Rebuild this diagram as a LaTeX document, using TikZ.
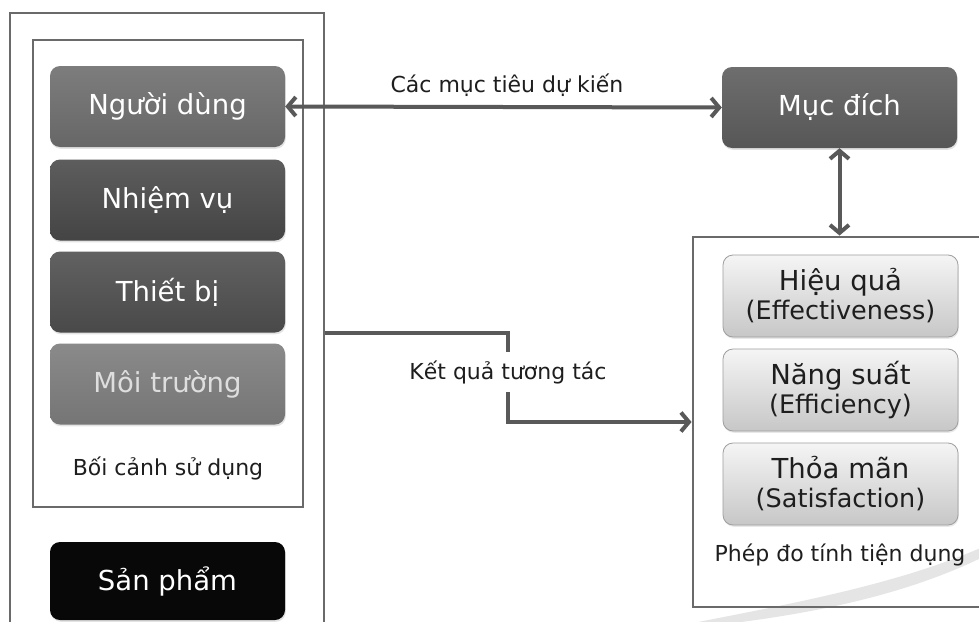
\documentclass[tikz,border=0pt]{standalone}
\usepackage{fontspec}
\setmainfont{DejaVu Sans}
\usetikzlibrary{arrows.meta,shadows}

\definecolor{framegray}{HTML}{6A6A6A}
\definecolor{linegray}{HTML}{595959}
\definecolor{txtdark}{HTML}{1E1E1E}
\definecolor{userfill}{HTML}{6B6B6B}
\definecolor{taskfill}{HTML}{474747}
\definecolor{devfill}{HTML}{4C4C4C}
\definecolor{envfill}{HTML}{7A7A7A}
\definecolor{goalfill}{HTML}{5A5A5A}

\begin{document}
\begin{tikzpicture}[x=1pt,y=-1pt,
  frame/.style={draw=framegray, line width=2.9pt, inner sep=0pt},
  block/.style={rounded corners=10pt, minimum width=235pt, minimum height=81pt,
    inner sep=0pt, text=white, font=\fontsize{27.5}{32}\selectfont,
    drop shadow={opacity=0.22, shadow xshift=0.8pt, shadow yshift=-1.8pt}},
  blockmid/.style={block, top color=#1!88!white, bottom color=#1!96!black},
  metric/.style={rounded corners=10pt, minimum width=235pt, minimum height=82pt,
    inner sep=0pt, draw=black!38, line width=0.8pt, top color=black!4,
    bottom color=black!22, text=txtdark, align=center,
    font=\fontsize{25.5}{29}\selectfont,
    drop shadow={opacity=0.18, shadow xshift=0.8pt, shadow yshift=-1.8pt}},
  caption/.style={text=txtdark, font=\fontsize{22}{26}\selectfont, inner sep=0pt},
  conn/.style={draw=linegray, line width=4pt},
  tipend/.style={-{Straight Barb[length=8pt,width=19pt,line width=4pt]}},
  tipboth/.style={{Straight Barb[length=8pt,width=19pt,line width=4pt]}-{Straight Barb[length=8pt,width=19pt,line width=4pt]}}
]
\clip (0,0) rectangle (979,621);
\fill[white] (0,0) rectangle (979,621);

% faint decorative swoosh at the lower right
\fill[black!10] (688,624) .. controls (790,604) and (900,584) .. (985,546)
  -- (985,556) .. controls (900,598) and (800,616) .. (700,627) -- cycle;

% frames
\node[frame, minimum width=314pt, minimum height=627pt] (outer) at (167,326.5) {};
\node[frame, minimum width=270pt, minimum height=467pt] (inner) at (168,273.5) {};
\node[frame, minimum width=310pt, minimum height=370pt] (panel) at (848,422) {};

% context of use
\node[blockmid=userfill] (nguoidung) at (167.5,106.5) {Người dùng};
\node[blockmid=taskfill] (nhiemvu)   at (167.5,200)   {Nhiệm vụ};
\node[blockmid=devfill]  (thietbi)   at (167.5,292)   {Thiết bị};
\node[blockmid=envfill, text=black!13] (moitruong) at (167.5,384) {Môi trường};
\node[caption] (boicanh) at (168,468) {Bối cảnh sử dụng};
\node[block, fill=black!97, minimum height=78pt] (sanpham) at (167.5,581) {Sản phẩm};

% goal
\node[blockmid=goalfill] (mucdich) at (839.5,107.5) {Mục đích};

% usability measures
\node[metric] (hieuqua) at (840.5,296)
  {{\fontsize{27.5}{29}\selectfont Hiệu quả}\\(Effectiveness)};
\node[metric] (nangsuat) at (840.5,390)
  {{\fontsize{27.5}{29}\selectfont Năng suất}\\(Efficiency)};
\node[metric] (thoaman) at (840.5,484)
  {{\fontsize{27.5}{29}\selectfont Thỏa mãn}\\(Satisfaction)};
\node[caption] (phepdo) at (840,555) {Phép đo tính tiện dụng};

% connectors
\node[caption] (goals) at (507,85) {Các mục tiêu dự kiến};
\draw[conn, tipboth] (nguoidung.east) -- (mucdich.west);
\draw[conn, tipboth] (mucdich.south) -- (mucdich.south |- panel.north);

\node[caption, minimum height=40pt] (ketqua) at (508,372) {Kết quả tương tác};
\draw[conn] (outer.east |- thietbi.south) -| (ketqua.north);
\draw[conn, tipend] (ketqua.south) |- (panel.west);
\end{tikzpicture}
\end{document}
